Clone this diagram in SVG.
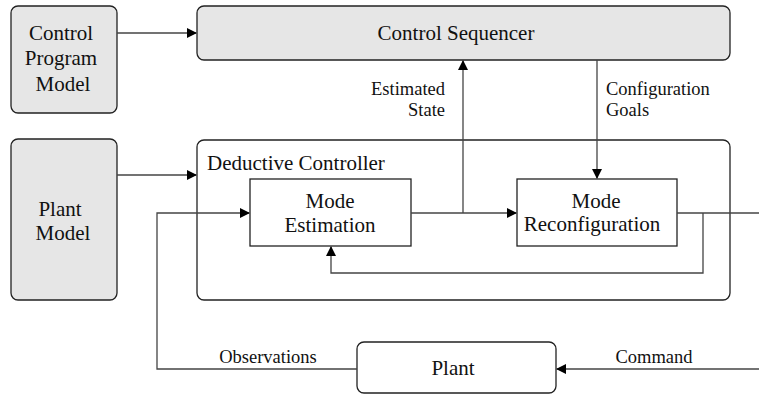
<svg xmlns="http://www.w3.org/2000/svg" width="759" height="395" viewBox="0 0 759 395" font-family="'Liberation Serif', 'Times New Roman', Times, serif">
<defs>
<style>
.g{fill:#e6e6e6;stroke:#222;stroke-width:1.3}
.w{fill:#fff;stroke:#222;stroke-width:1.3}
.c{fill:none;stroke:#444;stroke-width:1.3}
text{fill:#111}
.t{font-size:21px;text-anchor:middle}
.s{font-size:18.5px}
</style>
<marker id="a" markerWidth="10" markerHeight="10" refX="9" refY="5" orient="auto" markerUnits="userSpaceOnUse">
<path d="M0,0 L10,5 L0,10 Z" fill="#000"/>
</marker>
</defs>
<g id="dc">
<rect x="197" y="140" width="533" height="160" rx="7" class="w"/>
<text x="207" y="170" font-size="21">Deductive Controller</text>
</g>
<g id="cpm">
<rect x="11" y="6" width="106" height="107" rx="7" class="g"/>
<text class="t" x="61" y="40">Control</text>
<text class="t" x="61" y="65">Program</text>
<text class="t" x="63" y="91">Model</text>
</g>
<g id="cs">
<rect x="197" y="6" width="533" height="54" rx="7" class="g"/>
<text class="t" x="456" y="40">Control Sequencer</text>
</g>
<g id="pm">
<rect x="11" y="139" width="106" height="161" rx="7" class="g"/>
<text class="t" x="60" y="216">Plant</text>
<text class="t" x="63" y="240">Model</text>
</g>
<g id="me">
<rect x="250" y="179" width="161" height="67" class="w"/>
<text class="t" x="330" y="208">Mode</text>
<text class="t" x="330" y="232">Estimation</text>
</g>
<g id="mr">
<rect x="517" y="179" width="160" height="67" class="w"/>
<text class="t" x="596" y="208">Mode</text>
<text class="t" x="592" y="231">Reconfiguration</text>
</g>
<g id="plant">
<rect x="357" y="342" width="199" height="51" rx="7" class="w"/>
<text class="t" x="453" y="375">Plant</text>
</g>
<g id="connectors">
<path class="c" d="M117,33 H196" marker-end="url(#a)"/>
<path class="c" d="M117,175 H196" marker-end="url(#a)"/>
<path class="c" d="M411,213 H516" marker-end="url(#a)"/>
<path class="c" d="M463,213 V61" marker-end="url(#a)"/>
<path class="c" d="M597,60 V178" marker-end="url(#a)"/>
<path class="c" d="M677,213 H759"/>
<path class="c" d="M703,213 V273 H331 V247" marker-end="url(#a)"/>
<path class="c" d="M357,369 H157 V213 H249" marker-end="url(#a)"/>
<path class="c" d="M759,369 H557" marker-end="url(#a)"/>
<text class="s" x="445" y="95" text-anchor="end">Estimated</text>
<text class="s" x="445" y="116" text-anchor="end">State</text>
<text class="s" x="606" y="95">Configuration</text>
<text class="s" x="606" y="116">Goals</text>
<text class="s" x="268" y="363" text-anchor="middle">Observations</text>
<text class="s" x="654" y="363" text-anchor="middle">Command</text>
</g>
</svg>
